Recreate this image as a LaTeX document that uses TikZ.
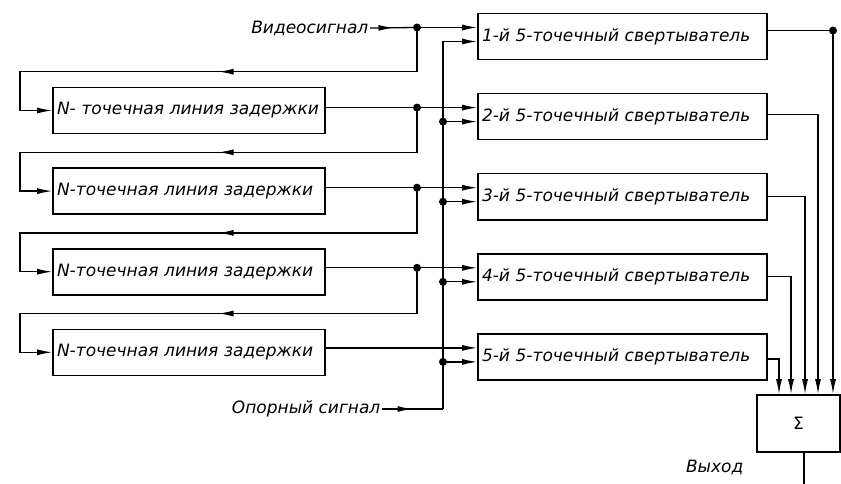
\documentclass[tikz,border=0pt]{standalone}
\usepackage{fontspec}
\setmainfont{DejaVu Sans}
\usetikzlibrary{arrows.meta, positioning, decorations.markings}

\begin{document}
\begin{tikzpicture}[x=1pt, y=-1pt, line width=1.3pt, font=\fontsize{17}{20}\selectfont\itshape,
    conv/.style={draw, line width=1.6pt, text width=281pt, inner sep=4pt, minimum height=46pt, align=left},
    delay/.style={draw, line width=1.6pt, text width=264pt, inner sep=4pt, minimum height=46pt, align=left},
    arr/.style={-{Latex[length=15pt, width=6pt]}},
    midarr/.style={postaction={decorate}, decoration={markings, mark=at position 0.5 with {\arrow{Latex[length=15pt, width=6pt]}}}},
    dot/.style={circle, fill, inner sep=0pt, minimum size=8pt}]

    \useasboundingbox (0,0) rectangle (841,484);

    % Convolvers
    \node[conv] (c1) at (622.5,36.5) {1-й 5-точечный свертыватель};
    \node[conv, below=32.5pt of c1] (c2) {2-й 5-точечный свертыватель};
    \node[conv, below=32.5pt of c2] (c3) {3-й 5-точечный свертыватель};
    \node[conv, below=32.5pt of c3] (c4) {4-й 5-точечный свертыватель};
    \node[conv, below=32.5pt of c4] (c5) {5-й 5-точечный свертыватель};

    % Delay lines
    \node[delay] (d1) at (189,110.5) {N- точечная линия задержки};
    \node[delay, below=33pt of d1] (d2) {N-точечная линия задержки};
    \node[delay, below=33pt of d2] (d3) {N-точечная линия задержки};
    \node[delay, below=33pt of d3] (d4) {N-точечная линия задержки};

    % Summator
    \node[draw, line width=1.6pt, minimum width=83pt, minimum height=57pt, font=\fontsize{17}{20}\selectfont\upshape] (sum) at (798.5,423.5) {Σ};

    % Signals
    \node[anchor=east, inner sep=1pt] (vid) at (370,28) {Видеосигнал};
    \node[anchor=east, inner sep=1pt] (ref) at (382,409) {Опорный сигнал};
    \node[anchor=east, inner sep=1pt] (out) at (745,467) {Выход};

    \coordinate (jx) at (417,0);
    \coordinate (bx) at (443,0);
    \coordinate (lx) at (20,0);
    \coordinate (outend) at (804,484);

    \foreach \k in {1,...,5} {
        \coordinate (cu\k) at ([yshift=9pt]c\k.west);
        \coordinate (cl\k) at ([yshift=-5pt]c\k.west);
    }
    \foreach \k in {1,...,4}
        \coordinate (fb\k) at ([yshift=15pt]d\k.north);

    % Video signal
    \draw[midarr] (vid.east) -- (jx |- cu1);
    \draw[arr] (jx |- cu1) -- (cu1);

    % Delay outputs
    \foreach \k/\n in {1/2,2/3,3/4,4/5}
        \draw[arr] (d\k.east |- cu\n) -- (cu\n);
    \foreach \k in {1,...,4}
        \node[dot] at (jx |- cu\k) {};

    % Feedback into delay lines
    \foreach \k in {1,...,4} {
        \draw[arr] (jx |- cu\k) -- (jx |- fb\k) -- (lx |- fb\k) -- (lx |- d\k.west) -- (d\k.west);
        \draw[midarr] (jx |- fb\k) -- (lx |- fb\k);
    }

    % Reference signal
    \draw[midarr] (ref.east) -- (bx |- ref.east);
    \draw[arr] (bx |- ref.east) -- (bx |- cl1) -- (cl1);
    \foreach \k in {2,...,5} {
        \draw[arr] (bx |- cl\k) -- (cl\k);
        \node[dot] at (bx |- cl\k) {};
    }

    % Outputs to summator
    \foreach \k/\dx/\dy in {1/34.5/6, 2/19.5/2, 3/6.5/0, 4/-7.5/0, 5/-19.5/-2} {
        \coordinate (co\k) at ([yshift=\dy pt]c\k.east);
        \coordinate (si\k) at ([xshift=\dx pt]sum.north);
        \draw[arr] (co\k) -| (si\k);
    }
    \node[dot] at (si1 |- co1) {};

    % Output
    \draw (sum.south -| outend) -- (outend);
\end{tikzpicture}
\end{document}
